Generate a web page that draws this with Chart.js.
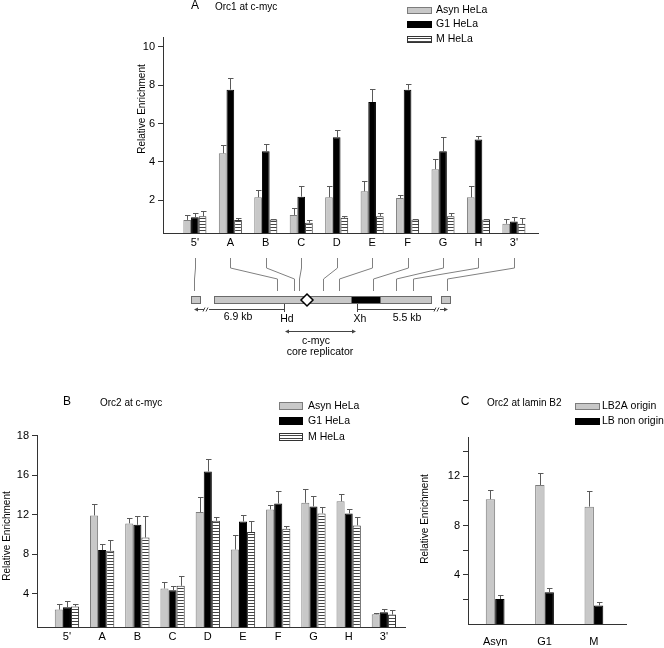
<!DOCTYPE html>
<html>
<head>
<meta charset="utf-8">
<script src="https://cdn.jsdelivr.net/npm/chart.js@4.4.1/dist/chart.umd.min.js"></script>
<style>
html, body { margin: 0; padding: 0; background: #fff; }
#fig { position: relative; width: 664px; height: 648px; overflow: hidden; }
canvas { position: absolute; }
</style>
</head>
<body>
<div id="fig">
  <canvas id="orc1" width="664" height="385" style="left:0;top:0"></canvas>
  <canvas id="orc2" width="410" height="263" style="left:0;top:385px"></canvas>
  <canvas id="lamin" width="254" height="263" style="left:410px;top:385px"></canvas>
</div>
<script>
// primer sites across the c-myc locus
var sites = ["5'", 'A', 'B', 'C', 'D', 'E', 'F', 'G', 'H', "3'"];

// panel A: Orc1 at c-myc
var orc1Asyn = [0.98, 4.45, 2.16, 1.24, 2.16, 2.47, 2.12, 3.62, 2.16, 0.78];
var orc1AsynErr = [0.26, 0.41, 0.36, 0.38, 0.6, 0.56, 0.14, 0.52, 0.56, 0.25];
var orc1G1 = [1.12, 7.76, 4.55, 2.19, 5.28, 7.12, 7.76, 4.55, 5.17, 0.9];
var orc1G1Err = [0.21, 0.62, 0.4, 0.53, 0.39, 0.66, 0.31, 0.76, 0.17, 0.24];
var orc1M = [1.17, 0.98, 1.0, 0.83, 1.09, 1.17, 1.0, 1.17, 1.0, 0.78];
var orc1MErr = [0.28, 0.09, 0.03, 0.14, 0.08, 0.16, 0.03, 0.17, 0.03, 0.29];
var orc1Ticks = [2, 4, 6, 8, 10];
var orc1TickLabels = ['2', '4', '6', '8', '10'];

// panel B: Orc2 at c-myc
var orc2Asyn = [2.37, 11.93, 11.12, 4.51, 12.27, 8.47, 12.54, 13.22, 13.36, 1.9];
var orc2AsynErr = [0.61, 1.12, 0.51, 0.61, 1.49, 1.43, 0.48, 1.42, 0.71, 0.13];
var orc2G1 = [2.61, 8.41, 10.98, 4.34, 16.4, 11.32, 13.15, 12.85, 12.14, 2.1];
var orc2G1Err = [0.68, 0.67, 0.92, 0.47, 1.3, 0.68, 1.29, 1.05, 0.4, 0.37];
var orc2M = [2.68, 8.34, 9.69, 4.78, 11.39, 10.24, 10.58, 12.14, 10.92, 1.86];
var orc2MErr = [0.3, 1.12, 2.21, 0.98, 0.34, 1.15, 0.27, 0.61, 0.81, 0.44];
var orc2Ticks = [4, 8, 12, 16, 20];
var orc2TickLabels = ['4', '8', '12', '16', '18'];  // top label reads 18 in the original

// panel C: Orc2 at lamin B2
var phases = ['Asyn', 'G1', 'M'];
var lb2a = [10.14, 11.3, 9.54];
var lb2aErr = [0.76, 0.97, 1.27];
var lbNon = [2.03, 2.59, 1.51];
var lbNonErr = [0.29, 0.3, 0.3];
var laminTicks = [2, 4, 6, 8, 10, 12, 14];
var laminTickLabels = ['', '4', '', '8', '', '12', ''];

var FONT = "'Liberation Sans', Arial, Helvetica, sans-serif";
Chart.defaults.font.family = FONT;
Chart.defaults.color = '#000';
Chart.defaults.animation = false;

var GRAY = '#c8c8c8', GRAY_EDGE = '#7c7c7c', AXIS = '#333';

function stripes() {
    var c = document.createElement('canvas');
    c.width = 4; c.height = 3;
    var g = c.getContext('2d');
    g.fillStyle = '#fff';
    g.fillRect(0, 0, 4, 3);
    g.fillStyle = '#444';
    g.fillRect(0, 2, 4, 1);
    return g.createPattern(c, 'repeat');
}
var STRIPES = stripes();

function pts(vals) {
    return vals.map(function (v, i) { return {x: i, y: v}; });
}

function series(label, vals, errs, fill, edge) {
    return {label: label, data: pts(vals), errors: errs,
        backgroundColor: fill, borderColor: edge, borderWidth: 1};
}

function xAxis(labels, min, max, pad, h) {
    return {
        type: 'linear', min: min, max: max, offset: false,
        grid: {display: false, drawTicks: false},
        border: {display: true, color: AXIS, width: 1},
        afterBuildTicks: function (s) {
            s.ticks = labels.map(function (l, i) { return {value: i}; });
        },
        ticks: {autoSkip: false, maxRotation: 0, padding: pad, font: {size: 11},
            callback: function (v) { return labels[v]; }},
        afterFit: function (s) { s.height = h; }
    };
}

function yAxis(ticks, labels, min, max, w) {
    return {
        min: min, max: max,
        grid: {drawOnChartArea: false, drawTicks: true, tickLength: 5, color: AXIS},
        border: {display: true, color: AXIS, width: 1},
        afterBuildTicks: function (s) {
            s.ticks = ticks.map(function (v) { return {value: v}; });
        },
        ticks: {autoSkip: false, padding: 3, font: {size: 11},
            callback: function (v, i) { return labels[i]; }},
        afterFit: function (s) { s.width = w; }
    };
}

function label(ctx, s, x, y, size, align) {
    ctx.font = size + 'px ' + FONT;
    ctx.textAlign = align || 'left';
    ctx.textBaseline = 'middle';
    ctx.fillStyle = '#000';
    ctx.fillText(s, x, y);
}

var errorBars = {
    id: 'errorBars',
    afterDatasetsDraw: function (chart) {
        var ctx = chart.ctx, ys = chart.scales.y;
        ctx.save();
        ctx.strokeStyle = '#5a5a5a';
        ctx.lineWidth = 1;
        chart.data.datasets.forEach(function (ds, di) {
            chart.getDatasetMeta(di).data.forEach(function (bar, i) {
                var v = ds.data[i].y;
                var x = Math.round(bar.x) + 0.5;
                var y0 = ys.getPixelForValue(v), y1 = Math.round(ys.getPixelForValue(v + ds.errors[i])) + 0.5;
                ctx.beginPath();
                ctx.moveTo(x, y0);
                ctx.lineTo(x, y1);
                ctx.moveTo(x - 2.5, y1);
                ctx.lineTo(x + 3, y1);
                ctx.stroke();
            });
        });
        ctx.restore();
    }
};

// panel letter, panel title, legend and y title
var decor = {
    id: 'decor',
    afterDraw: function (chart, args, o) {
        var ctx = chart.ctx;
        ctx.save();
        label(ctx, o.letter, o.letterX, o.titleY - 1, 12, 'center');
        label(ctx, o.title, o.titleX, o.titleY, 10);
        chart.data.datasets.forEach(function (ds, i) {
            var top = o.legendY[i];
            ctx.fillStyle = ds.backgroundColor;
            ctx.fillRect(o.legendX, top, o.boxW, o.boxH);
            ctx.strokeStyle = ds.borderColor;
            ctx.lineWidth = 1;
            ctx.strokeRect(o.legendX + 0.5, top + 0.5, o.boxW - 1, o.boxH - 1);
            label(ctx, ds.label, o.legendX + o.boxW + o.gap, top + o.boxH / 2, 10.5);
        });
        ctx.translate(o.yTitleX, o.yTitleY);
        ctx.rotate(-Math.PI / 2);
        label(ctx, 'Relative Enrichment', 0, 0, 10, 'center');
        ctx.restore();
    }
};

// c-myc map under panel A
var geneMap = {
    id: 'geneMap',
    afterDraw: function (chart) {
        var ctx = chart.ctx, xs = chart.scales.x;
        var target = [194, 277, 294, 299, 323, 339, 373, 396, 413, 447];
        ctx.save();
        ctx.strokeStyle = '#808080';
        ctx.lineWidth = 1;
        sites.forEach(function (s, i) {
            var lx = Math.round(xs.getPixelForValue(i)) + 0.5, tx = target[i] + 0.5;
            ctx.beginPath();
            ctx.moveTo(lx, 258);
            ctx.lineTo(lx, 268);
            ctx.lineTo(tx, 279);
            ctx.lineTo(tx, 291);
            ctx.stroke();
        });
        function box(x, w, fill) {
            ctx.fillStyle = fill;
            ctx.fillRect(x, 296, w, 8);
            ctx.strokeStyle = '#6a6a6a';
            ctx.strokeRect(x + 0.5, 296.5, w - 1, 7);
        }
        box(191, 10, GRAY);
        box(214, 218, GRAY);
        box(351, 30, '#000');
        box(441, 10, GRAY);
        ctx.beginPath();
        ctx.moveTo(307, 294); ctx.lineTo(313, 300); ctx.lineTo(307, 306); ctx.lineTo(301, 300);
        ctx.closePath();
        ctx.fillStyle = '#fff';
        ctx.fill();
        ctx.strokeStyle = '#000';
        ctx.lineWidth = 1.5;
        ctx.stroke();

        ctx.lineWidth = 1;
        ctx.strokeStyle = '#444';
        ctx.fillStyle = '#444';
        function head(x, y, dir) {
            ctx.beginPath();
            ctx.moveTo(x, y);
            ctx.lineTo(x - dir * 4, y - 2);
            ctx.lineTo(x - dir * 4, y + 2);
            ctx.closePath();
            ctx.fill();
        }
        function seg(x0, x1, y) {
            ctx.beginPath();
            ctx.moveTo(x0, y);
            ctx.lineTo(x1, y);
            ctx.stroke();
        }
        function brk(x, y) {
            ctx.beginPath();
            ctx.moveTo(x - 2, y + 2); ctx.lineTo(x, y - 2);
            ctx.moveTo(x + 1, y + 2); ctx.lineTo(x + 3, y - 2);
            ctx.stroke();
        }
        // 6.9 kb
        seg(196, 204, 309.5); brk(205, 309.5); seg(209, 284, 309.5); head(194, 309.5, -1);
        ctx.beginPath(); ctx.moveTo(284.5, 304); ctx.lineTo(284.5, 312); ctx.stroke();
        // 5.5 kb
        ctx.beginPath(); ctx.moveTo(357.5, 304); ctx.lineTo(357.5, 312); ctx.stroke();
        seg(358, 435, 309.5); brk(436, 309.5); seg(440, 446, 309.5); head(448, 309.5, 1);
        // core replicator
        seg(288, 353, 331.5); head(285, 331.5, -1); head(356, 331.5, 1);

        label(ctx, '6.9 kb', 238, 317, 10.5, 'center');
        label(ctx, 'Hd', 287, 319, 10.5, 'center');
        label(ctx, 'Xh', 360, 319, 10.5, 'center');
        label(ctx, '5.5 kb', 407, 318, 10.5, 'center');
        label(ctx, 'c-myc', 316, 341, 10.5, 'center');
        label(ctx, 'core replicator', 320, 352, 10.5, 'center');
        ctx.restore();
    }
};

new Chart(document.getElementById('orc1'), {
    type: 'bar',
    data: {
        datasets: [
            series('Asyn HeLa', orc1Asyn, orc1AsynErr, GRAY, GRAY_EDGE),
            series('G1 HeLa', orc1G1, orc1G1Err, '#000', '#000'),
            series('M HeLa', orc1M, orc1MErr, STRIPES, '#333')
        ]
    },
    options: {
        responsive: false,
        categoryPercentage: 0.65,
        barPercentage: 1,
        layout: {padding: {left: 123, right: 126, top: 37, bottom: 128}},
        scales: {
            x: xAxis(sites, -0.9, 9.68, 3, 24),
            y: yAxis(orc1Ticks, orc1TickLabels, 0.3, 10.5, 40)
        },
        plugins: {
            legend: {display: false},
            tooltip: {enabled: false},
            decor: {letter: 'A', letterX: 195, title: 'Orc1 at c-myc', titleX: 215, titleY: 7,
                legendX: 407, legendY: [7, 21, 36], boxW: 25, boxH: 7, gap: 4, yTitleX: 142, yTitleY: 109}
        }
    },
    plugins: [errorBars, decor, geneMap]
});

new Chart(document.getElementById('orc2'), {
    type: 'bar',
    data: {
        datasets: [
            series('Asyn HeLa', orc2Asyn, orc2AsynErr, GRAY, GRAY_EDGE),
            series('G1 HeLa', orc2G1, orc2G1Err, '#000', '#000'),
            series('M HeLa', orc2M, orc2MErr, STRIPES, '#333')
        ]
    },
    options: {
        responsive: false,
        categoryPercentage: 0.69,
        barPercentage: 1,
        layout: {padding: {left: 7, right: 5, top: 50, bottom: 0}},
        scales: {
            x: xAxis(sites, -0.85, 9.6, 3, 21),
            y: yAxis(orc2Ticks, orc2TickLabels, 0.6, 20.1, 30)
        },
        plugins: {
            legend: {display: false},
            tooltip: {enabled: false},
            decor: {letter: 'B', letterX: 67, title: 'Orc2 at c-myc', titleX: 100, titleY: 18,
                legendX: 279, legendY: [17, 32, 48], boxW: 24, boxH: 8, gap: 5, yTitleX: 7, yTitleY: 151}
        }
    },
    plugins: [errorBars, decor]
});

new Chart(document.getElementById('lamin'), {
    type: 'bar',
    data: {
        datasets: [
            series('LB2A origin', lb2a, lb2aErr, GRAY, GRAY_EDGE),
            series('LB non origin', lbNon, lbNonErr, '#000', '#000')
        ]
    },
    options: {
        responsive: false,
        categoryPercentage: 0.38,
        barPercentage: 1,
        layout: {padding: {left: 18, right: 38, top: 52, bottom: 2}},
        scales: {
            x: xAxis(phases, -0.55, 2.65, 11, 22),
            y: yAxis(laminTicks, laminTickLabels, 0, 15.2, 40)
        },
        plugins: {
            legend: {display: false},
            tooltip: {enabled: false},
            decor: {letter: 'C', letterX: 55, title: 'Orc2 at lamin B2', titleX: 77, titleY: 18,
                legendX: 165, legendY: [18, 33], boxW: 25, boxH: 7, gap: 2, yTitleX: 15, yTitleY: 134}
        }
    },
    plugins: [errorBars, decor]
});
</script>
</body>
</html>
